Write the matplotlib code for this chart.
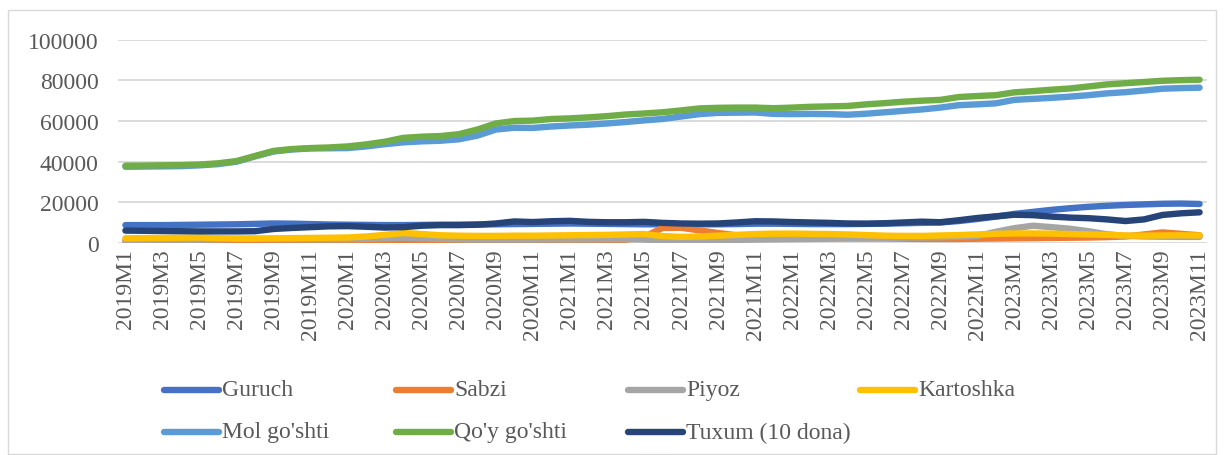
import matplotlib.pyplot as plt
from matplotlib.lines import Line2D
from matplotlib.patches import Rectangle

# oylar: 2019M1 .. 2023M11
months = [f"{y}M{m}" for y in range(2019, 2024) for m in range(1, 13)][:59]

guruch = [8800, 8800, 8800, 8900, 9000, 9100, 9200, 9400, 9600, 9500,
          9300, 9100, 9000, 8900, 8800, 8800, 8900, 9000, 9000, 9100,
          9200, 9300, 9400, 9500, 9600, 9500, 9400, 9300, 9200, 9200,
          9200, 9200, 9200, 9300, 9500, 9500, 9400, 9300, 9300, 9300,
          9400, 9500, 9700, 9900, 10100, 10800, 11800, 13000, 14300, 15300,
          16300, 17100, 17800, 18300, 18700, 19000, 19300, 19400, 19200]
sabzi = [1000, 1000, 1000, 1100, 1200, 1200, 1100, 1000, 1000, 1000,
         1000, 1000, 1100, 1100, 1100, 1200, 1300, 1300, 1300, 1300,
         1300, 1300, 1300, 1300, 1300, 1400, 1400, 1600, 3000, 7400,
         7500, 6200, 4900, 3800, 3200, 2800, 2600, 2500, 2400, 2300,
         2200, 2200, 2100, 2000, 2000, 2000, 2100, 2200, 2300, 2400,
         2500, 2600, 2700, 2900, 3200, 4200, 5200, 4500, 3800]
piyoz = [1500, 1400, 1300, 1400, 1600, 1800, 2000, 2000, 1900, 1900,
         1800, 1800, 1900, 2000, 2300, 2600, 2300, 2000, 1800, 1700,
         1700, 1700, 1700, 1800, 1800, 1800, 1900, 1900, 1700, 1300,
         1200, 1200, 1300, 1500, 1700, 1800, 1900, 2000, 2100, 2200,
         2400, 2500, 2600, 2700, 2800, 3000, 3500, 5500, 7300, 8500,
         7800, 7000, 5800, 4300, 3500, 3200, 3100, 3000, 3000]
kartoshka = [2300, 2400, 2500, 2600, 2700, 2400, 2200, 2200, 2300, 2400,
             2500, 2600, 2700, 3200, 4000, 4900, 4400, 3800, 3600, 3500,
             3500, 3600, 3600, 3700, 3800, 3900, 4000, 4200, 4400, 3400,
             3000, 3200, 3600, 4000, 4400, 4600, 4600, 4500, 4400, 4200,
             3900, 3600, 3500, 3500, 3700, 3900, 4200, 4500, 4700, 4700,
             4600, 4400, 4200, 4000, 3700, 3600, 3700, 3800, 3700]
mol = [37500, 37600, 37700, 37800, 38200, 38800, 40000, 42600, 45000, 46000,
       46500, 46600, 46700, 47500, 48600, 49500, 50000, 50300, 51000, 52800,
       55800, 56700, 56600, 57300, 57800, 58200, 58800, 59500, 60300, 61000,
       62200, 63400, 64000, 64100, 64200, 63500, 63400, 63500, 63400, 63100,
       63600, 64300, 65000, 65700, 66600, 67800, 68200, 68700, 70400, 70900,
       71400, 72000, 72700, 73600, 74200, 75000, 75900, 76200, 76400]
qoy = [38000, 38100, 38200, 38300, 38600, 39200, 40300, 42800, 45300, 46200,
       46700, 47000, 47500, 48500, 49800, 51700, 52300, 52600, 53500, 55800,
       58800, 60000, 60200, 61000, 61300, 61800, 62400, 63200, 63700, 64300,
       65200, 66200, 66500, 66600, 66600, 66300, 66600, 67000, 67200, 67400,
       68200, 68800, 69500, 70000, 70400, 71800, 72300, 72700, 74100, 74700,
       75400, 76000, 77000, 78000, 78600, 79200, 79800, 80100, 80300]
tuxum = [6100, 6000, 5900, 5800, 5700, 5700, 5700, 5800, 6900, 7400,
         7800, 8200, 8300, 8000, 7600, 7800, 8500, 8800, 8800, 9000,
         9600, 10600, 10300, 10700, 10900, 10400, 10200, 10200, 10400, 9900,
         9600, 9500, 9600, 10100, 10700, 10600, 10300, 10100, 9900, 9600,
         9500, 9700, 10100, 10500, 10200, 11200, 12300, 13100, 13900, 13700,
         13000, 12500, 12200, 11600, 10800, 11600, 13800, 14600, 15100]

names = ["Guruch", "Sabzi", "Piyoz", "Kartoshka",
         "Mol go'shti", "Qo'y go'shti", "Tuxum (10 dona)"]
series = [guruch, sabzi, piyoz, kartoshka, mol, qoy, tuxum]
colors = ["#4472C4", "#ED7D31", "#A5A5A5", "#FFC000",
          "#5B9BD5", "#70AD47", "#264478"]

plt.rcParams['font.family'] = ['Liberation Serif', 'DejaVu Serif']

fig = plt.figure(figsize=(12.24, 4.56), dpi=100)
ax = fig.add_axes([118 / 1224, 1 - 244 / 456, (1207 - 118) / 1224, (244 - 40.7) / 456])

x = list(range(len(months)))
for vals, name, c in zip(series, names, colors):
    ax.plot(x, vals, color=c, lw=4.6, solid_capstyle='round',
            solid_joinstyle='round', label=name)

ax.set_ylim(0, 100000)
ax.set_xlim(-0.4, len(months) - 0.6)
ax.set_yticks(range(0, 100001, 20000))
ax.set_yticklabels([str(v) for v in range(0, 100001, 20000)])
ax.set_xticks(x[::2])
ax.set_xticklabels(months[::2], rotation=90)
ax.tick_params(axis='both', length=0, labelsize=17, colors='#595959')
ax.tick_params(axis='y', pad=14)
ax.tick_params(axis='x', pad=4)
ax.grid(axis='y', color='#D9D9D9', lw=1.3)
ax.set_axisbelow(True)
for s in ax.spines.values():
    s.set_visible(False)

# legend, Excel style: 4 equal columns, row-major
col_x = [164, 396, 628, 860]
row_y = [391, 433]
for k, (name, c) in enumerate(zip(names, colors)):
    cx = col_x[k % 4]
    cy = row_y[k // 4]
    fig.add_artist(Line2D([cx / 1224, (cx + 55) / 1224], [1 - cy / 456, 1 - cy / 456],
                          color=c, lw=4.6, solid_capstyle='round'))
    fig.text((cx + 58) / 1224, 1 - cy / 456, name, fontsize=17, color='#595959',
             va='center', ha='left')

# outer chart border
fig.add_artist(Rectangle((8 / 1224, 1 / 456), 1208 / 1224, 444 / 456,
                         fill=False, edgecolor='#D9D9D9', lw=1.0))

plt.savefig('out.png', dpi=100)
plt.close()
